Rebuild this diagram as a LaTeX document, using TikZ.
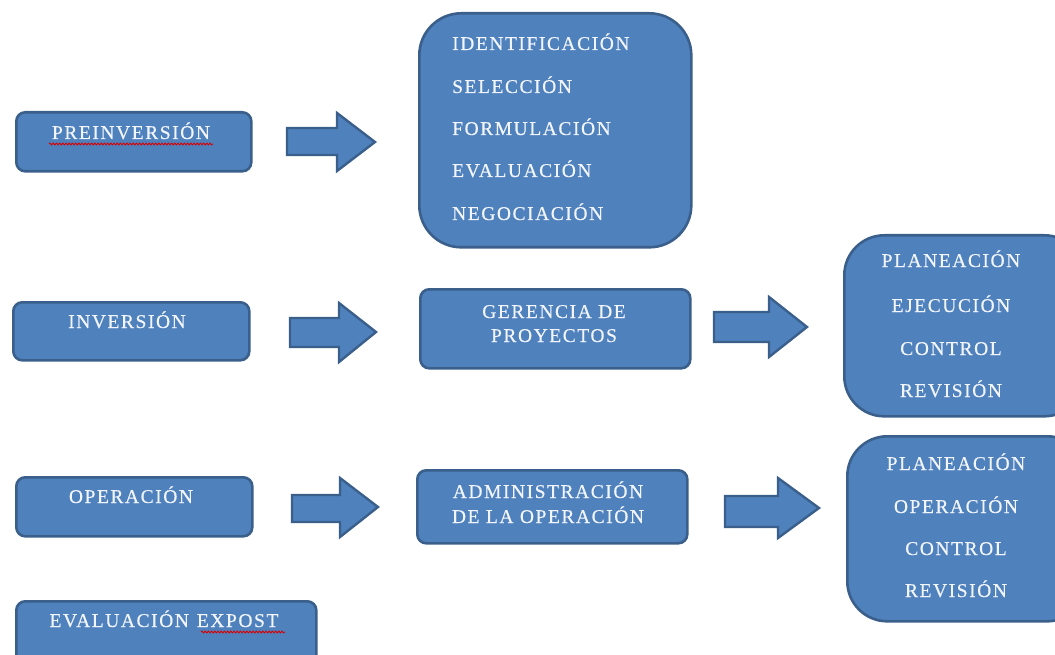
\documentclass[tikz,border=0pt]{standalone}
\usepackage{fontspec}
\setmainfont{Liberation Serif}[LetterSpace=8, FakeBold=0.4]
\usetikzlibrary{decorations.pathmorphing}
\definecolor{boxfill}{HTML}{4F81BD}
\definecolor{boxline}{HTML}{3A5F8B}
\definecolor{boxtext}{HTML}{F2F6FC}
\tikzset{
  box/.style={draw=boxline, fill=boxfill, line width=2.6pt, rounded corners=9pt,
              inner sep=0pt, anchor=north west},
  bigbox/.style={box, rounded corners=42pt},
  lbl/.style={text=boxtext, font=\fontsize{19.5}{24}\selectfont, inner sep=0pt, anchor=base},
  lbll/.style={lbl, anchor=base west},
  arrowshape/.style={draw=boxline, fill=boxfill, line width=2.4pt, line join=miter},
  spell/.style={draw=red!85!black, line width=0.9pt, decorate,
                decoration={snake, amplitude=0.9pt, segment length=3.2pt}}
}
% block arrow: tail x, shaft top, shaft bottom, head base x, head top, head bottom, tip x, tip y
\newcommand\blockarrow[8]{%
  \draw[arrowshape] (#1,#2) -- (#4,#2) -- (#4,#5) -- (#7,#8) -- (#4,#6) -- (#4,#3) -- (#1,#3) -- cycle;}
\begin{document}
\begin{tikzpicture}[x=1pt, y=-1pt]
\useasboundingbox (0,0) rectangle (1055,655);

% ---- row 1: preinversion ----
\node[box, minimum width=235pt, minimum height=59pt] (pre) at (15,111) {};
\node[lbl] (preT) at (131,139) {PREINVERSIÓN};
\coordinate (preS1) at (49,144);
\coordinate (preS2) at (213,144);
\draw[spell] (preS1) -- (preS2);

\blockarrow{287}{128}{155}{337}{113}{171}{375}{142}

\node[bigbox, minimum width=272pt, minimum height=234pt] (steps1) at (418,12) {};
\node[lbll] (s1a) at (452,50) {IDENTIFICACIÓN};
\node[lbll] (s1b) at (452,93) {SELECCIÓN};
\node[lbll] (s1c) at (452,135) {FORMULACIÓN};
\node[lbll] (s1d) at (452,177) {EVALUACIÓN};
\node[lbll] (s1e) at (452,220) {NEGOCIACIÓN};

% ---- row 2: inversion ----
\node[box, minimum width=236pt, minimum height=58pt] (inv) at (12,301) {};
\node[lbl] (invT) at (127,328) {INVERSIÓN};

\blockarrow{290}{318}{347}{339}{303}{362}{376}{332}

\node[box, minimum width=270pt, minimum height=79pt] (ger) at (419,288) {};
\node[lbl] (gerA) at (554,318) {GERENCIA DE};
\node[lbl] (gerB) at (554,342) {PROYECTOS};

\blockarrow{714}{312}{342}{769}{297}{357}{807}{327}

\node[bigbox, rounded corners=40pt, minimum width=240pt, minimum height=181pt] (steps2) at (843,234) {};
\node[lbl] (s2a) at (951,267) {PLANEACIÓN};
\node[lbl] (s2b) at (951,312) {EJECUCIÓN};
\node[lbl] (s2c) at (951,355) {CONTROL};
\node[lbl] (s2d) at (951,397) {REVISIÓN};

% ---- row 3: operacion ----
\node[box, minimum width=236pt, minimum height=59pt] (ope) at (15,476) {};
\node[lbl] (opeT) at (131,503) {OPERACIÓN};

\blockarrow{292}{495}{522}{340}{478}{537}{378}{507}

\node[box, minimum width=270pt, minimum height=73pt] (adm) at (416,469) {};
\node[lbl] (admA) at (548,498) {ADMINISTRACIÓN};
\node[lbl] (admB) at (548,523) {DE LA OPERACIÓN};

\blockarrow{725}{496}{527}{778}{478}{538}{819}{508}

\node[bigbox, rounded corners=40pt, minimum width=240pt, minimum height=185pt] (steps3) at (846,435) {};
\node[lbl] (s3a) at (956,470) {PLANEACIÓN};
\node[lbl] (s3b) at (956,513) {OPERACIÓN};
\node[lbl] (s3c) at (956,555) {CONTROL};
\node[lbl] (s3d) at (956,597) {REVISIÓN};

% ---- row 4: evaluacion expost ----
\node[box, minimum width=300pt, minimum height=80pt] (expo) at (15,600) {};
\node[lbl] (expoT) at (164,627) {EVALUACIÓN\hspace{8pt}EXPOST};
\coordinate (expoS1) at (201,632);
\coordinate (expoS2) at (285,632);
\draw[spell] (expoS1) -- (expoS2);
\end{tikzpicture}
\end{document}
